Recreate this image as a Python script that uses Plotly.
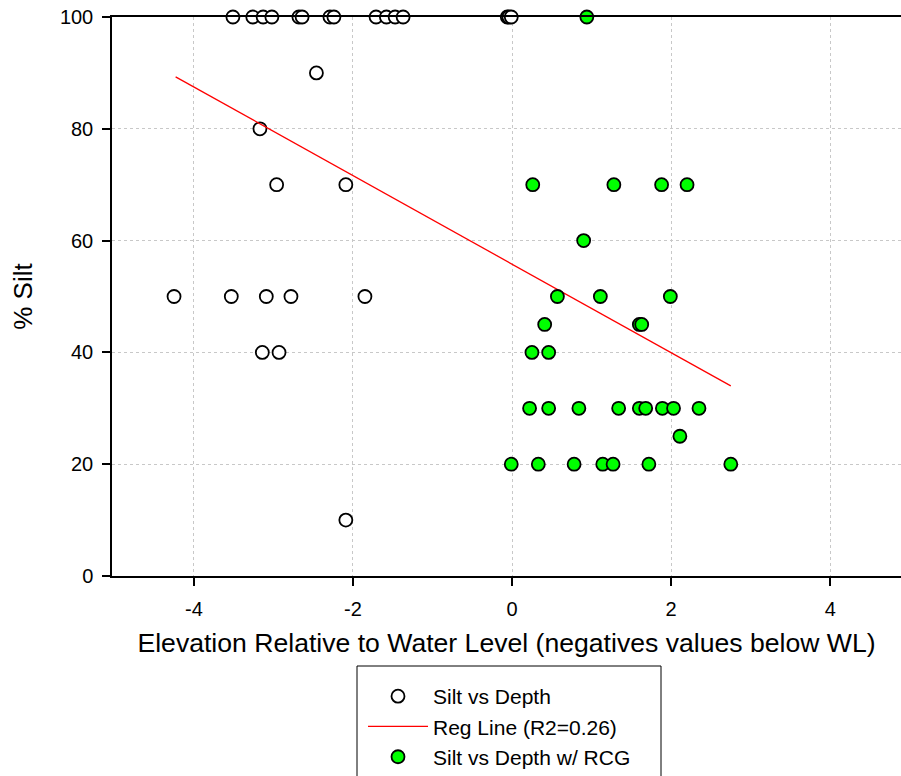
import plotly.graph_objects as go

# --- data ---
white_x = [-3.51, -3.26, -3.13, -3.02, -2.68, -2.64, -2.29, -2.24, -1.71, -1.58, -1.47, -1.37,
           -0.06, -0.04, -0.01,
           -2.46, -3.17, -2.96, -2.09,
           -4.25, -3.53, -3.09, -2.78, -1.85,
           -3.14, -2.93, -2.09]
white_y = [100, 100, 100, 100, 100, 100, 100, 100, 100, 100, 100, 100,
           100, 100, 100,
           90, 80, 70, 70,
           50, 50, 50, 50, 50,
           40, 40, 10]

green_x = [0.94,
           0.26, 1.28, 1.88, 2.20,
           0.90,
           0.57, 1.11, 1.99,
           0.41, 1.60, 1.63,
           0.25, 0.46,
           0.22, 0.46, 0.84, 1.34, 1.60, 1.68, 1.89, 2.03, 2.35,
           2.11,
           -0.01, 0.33, 0.78, 1.14, 1.27, 1.72, 2.75]
green_y = [100,
           70, 70, 70, 70,
           60,
           50, 50, 50,
           45, 45, 45,
           40, 40,
           30, 30, 30, 30, 30, 30, 30, 30, 30,
           25,
           20, 20, 20, 20, 20, 20, 20]

reg_x = [-4.23, 2.75]
reg_y = [89.3, 34.0]

x_tick_vals = [-4, -2, 0, 2, 4]
x_tick_labels = ["-4", "-2", "0", "2", "4"]
y_tick_vals = [0, 20, 40, 60, 80, 100]
y_tick_labels = ["0", "20", "40", "60", "80", "100"]

FONT = "Arial, Liberation Sans, sans-serif"

fig = go.Figure()
fig.add_trace(go.Scatter(
    x=white_x, y=white_y, mode="markers", name="Silt vs Depth",
    marker=dict(symbol="circle", size=13, color="white", line=dict(color="black", width=1.8)),
    cliponaxis=False,
))
fig.add_trace(go.Scatter(
    x=reg_x, y=reg_y, mode="lines", name="Reg Line (R2=0.26)",
    line=dict(color="red", width=1.3),
    cliponaxis=False,
))
fig.add_trace(go.Scatter(
    x=green_x, y=green_y, mode="markers", name="Silt vs Depth w/ RCG",
    marker=dict(symbol="circle", size=13, color="#00ff00", line=dict(color="black", width=1.8)),
    cliponaxis=False,
))

W, H = 901, 776
L, R, T, B = 112, 0, 17, 200
pw, ph = W - L - R, H - T - B

def px_to_paper_x(px):
    return (px - L) / pw

def px_to_paper_y(py):
    return (H - B - py) / ph

fig.update_layout(
    width=W, height=H,
    margin=dict(l=L, r=R, t=T, b=B, pad=0, autoexpand=False),
    paper_bgcolor="white", plot_bgcolor="white",
    font=dict(family=FONT, size=20, color="black"),
    showlegend=True,
    legend=dict(
        x=px_to_paper_x(363), y=px_to_paper_y(676),
        xanchor="left", yanchor="top",
        bgcolor="rgba(0,0,0,0)", borderwidth=0,
        font=dict(family=FONT, size=21, color="black"),
        itemwidth=60,
        tracegroupgap=0,
    ),
    xaxis=dict(
        range=[-5.03, 4.89],
        tickvals=x_tick_vals, ticktext=x_tick_labels,
        ticks="outside", ticklen=8, tickwidth=1.5, tickcolor="black",
        ticklabelstandoff=6,
        showline=True, linecolor="black", linewidth=1.5, mirror=True,
        showgrid=True, gridcolor="#c8c8c8", griddash="dot", gridwidth=1,
        zeroline=False, automargin=False,
        tickfont=dict(family=FONT, size=20),
        title=dict(text="Elevation Relative to Water Level (negatives values below WL)",
                   font=dict(family=FONT, size=26.6), standoff=15),
    ),
    yaxis=dict(
        range=[0, 100],
        tickvals=y_tick_vals, ticktext=y_tick_labels,
        ticks="outside", ticklen=8, tickwidth=1.5, tickcolor="black",
        ticklabelstandoff=5,
        showline=True, linecolor="black", linewidth=1.5, mirror=False,
        showgrid=True, gridcolor="#c8c8c8", griddash="dot", gridwidth=1,
        zeroline=False, automargin=False,
        tickfont=dict(family=FONT, size=20),
        title=dict(text="% Silt", font=dict(family=FONT, size=26), standoff=20),
    ),
    shapes=[dict(
        type="rect", xref="paper", yref="paper",
        x0=px_to_paper_x(357), x1=px_to_paper_x(661),
        y0=px_to_paper_y(800), y1=px_to_paper_y(666),
        line=dict(color="black", width=1), fillcolor="rgba(0,0,0,0)",
        layer="above",
    )],
)

fig.write_html("out.html", config={"displayModeBar": False},
               post_script="document.body.style.margin='0';document.body.style.overflow='hidden';")
